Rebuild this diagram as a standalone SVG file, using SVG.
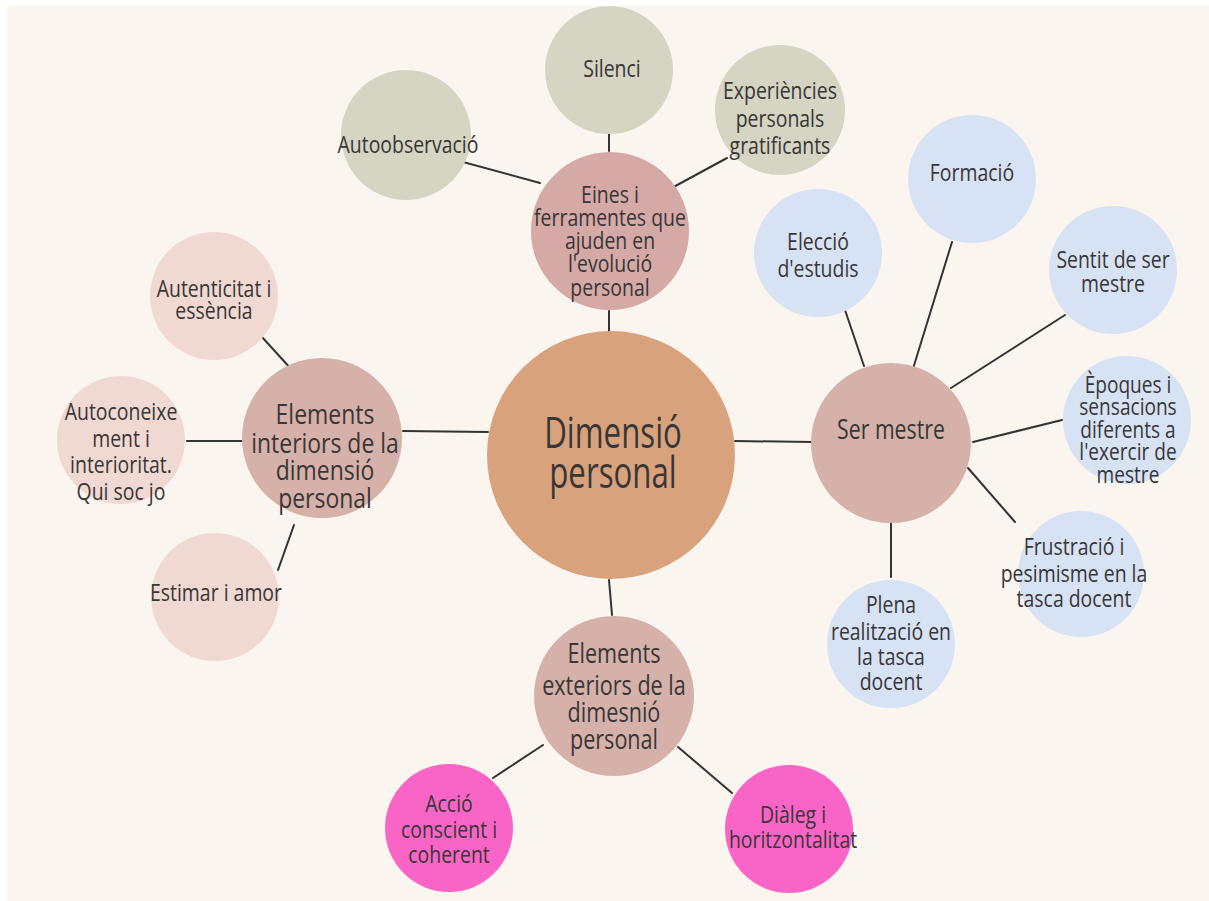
<svg xmlns="http://www.w3.org/2000/svg" width="1209" height="901" viewBox="0 0 1209 901">
  <style>
    .bg { fill: #faf5ef; }
    .link { stroke: #333333; stroke-width: 2; stroke-linecap: round; fill: none; }
    .core { fill: #d7a27c; }
    .hub { fill: #d5b1a9; }
    .hub-pink { fill: #d5aaa6; }
    .sage { fill: #d6d4c3; }
    .sky { fill: #d8e2f5; }
    .blush { fill: #f1d9d3; }
    .magenta { fill: #f865c7; }
    text {
      font-family: "Open Sans", "Noto Sans", "Liberation Sans", sans-serif;
      fill: #383636; text-anchor: middle; dominant-baseline: central;
      font-size: 24px;
      transform-box: fill-box; transform-origin: center;
      transform: scaleX(0.81);
    }
    text.small { font-size: 23px; transform: scaleX(0.83); }
    text.hubt { font-size: 27px; transform: scaleX(0.8); }
    text.hubw { font-size: 27px; transform: scaleX(0.85); }
    text.ser { font-size: 28px; transform: scaleX(0.76); }
    text.core-t { font-size: 44px; transform: scaleX(0.71); }
  </style>

  <rect width="1209" height="901" fill="#ffffff"/>
  <rect class="bg" x="7" y="6" width="1202" height="895"/>

  <!-- connectors -->
  <g id="connectors">
    <line class="link" x1="609" y1="311" x2="609" y2="334"/>
    <line class="link" x1="735" y1="441" x2="812" y2="442"/>
    <line class="link" x1="403" y1="431" x2="488" y2="432"/>
    <line class="link" x1="609" y1="580" x2="612" y2="615"/>
    <line class="link" x1="609" y1="133" x2="609" y2="151"/>
    <line class="link" x1="463" y1="162" x2="540" y2="183"/>
    <line class="link" x1="668" y1="190" x2="727" y2="158"/>
    <line class="link" x1="845" y1="310" x2="864" y2="366"/>
    <line class="link" x1="952" y1="242" x2="912" y2="372"/>
    <line class="link" x1="1065" y1="315" x2="951" y2="388"/>
    <line class="link" x1="1062" y1="420" x2="973" y2="442"/>
    <line class="link" x1="968" y1="468" x2="1015" y2="522"/>
    <line class="link" x1="891" y1="523" x2="891" y2="577"/>
    <line class="link" x1="493" y1="778" x2="543" y2="745"/>
    <line class="link" x1="678" y1="747" x2="732" y2="793"/>
    <line class="link" x1="262" y1="337" x2="292" y2="370"/>
    <line class="link" x1="187" y1="441" x2="242" y2="441"/>
    <line class="link" x1="294" y1="525" x2="278" y2="570"/>
  </g>

  <!-- centre -->
  <g id="dimensio-personal">
    <circle class="core" cx="611" cy="455" r="124"/>
    <text class="core-t"><tspan x="613" y="431">Dimensió</tspan><tspan x="613" y="471">personal</tspan></text>
  </g>

  <!-- tools branch -->
  <g id="eines">
    <circle class="hub-pink" cx="610" cy="231" r="79"/>
    <text><tspan x="610" y="193">Eines i</tspan><tspan x="610" y="216">ferramentes que</tspan><tspan x="610" y="239">ajuden en</tspan><tspan x="610" y="262">l'evolució</tspan><tspan x="610" y="286">personal</tspan></text>
  </g>
  <g id="silenci">
    <circle class="sage" cx="609" cy="70" r="64"/>
    <text x="612" y="68">Silenci</text>
  </g>
  <g id="autoobservacio">
    <circle class="sage" cx="406" cy="135" r="65"/>
    <text x="408" y="144">Autoobservació</text>
  </g>
  <g id="experiencies">
    <circle class="sage" cx="780" cy="110" r="65"/>
    <text><tspan x="780" y="89">Experiències</tspan><tspan x="780" y="117">personals</tspan><tspan x="780" y="144">gratificants</tspan></text>
  </g>

  <!-- teacher branch -->
  <g id="ser-mestre">
    <circle class="hub" cx="891" cy="443" r="80"/>
    <text class="ser" x="891" y="428">Ser mestre</text>
  </g>
  <g id="eleccio">
    <circle class="sky" cx="818" cy="253" r="64"/>
    <text><tspan x="818" y="240">Elecció</tspan><tspan x="818" y="267">d'estudis</tspan></text>
  </g>
  <g id="formacio">
    <circle class="sky" cx="972" cy="179" r="64"/>
    <text x="972" y="172">Formació</text>
  </g>
  <g id="sentit">
    <circle class="sky" cx="1113" cy="270" r="64"/>
    <text><tspan x="1113" y="258">Sentit de ser</tspan><tspan x="1113" y="282">mestre</tspan></text>
  </g>
  <g id="epoques">
    <circle class="sky" cx="1127" cy="420" r="64"/>
    <text class="small"><tspan x="1128" y="383">Èpoques i</tspan><tspan x="1128" y="405">sensacions</tspan><tspan x="1128" y="428">diferents a</tspan><tspan x="1128" y="450">l'exercir de</tspan><tspan x="1128" y="473">mestre</tspan></text>
  </g>
  <g id="frustracio">
    <circle class="sky" cx="1081" cy="574" r="63"/>
    <text><tspan x="1074" y="545">Frustració i</tspan><tspan x="1074" y="572">pesimisme en la</tspan><tspan x="1074" y="597">tasca docent</tspan></text>
  </g>
  <g id="plena">
    <circle class="sky" cx="891" cy="644" r="64"/>
    <text><tspan x="891" y="603">Plena</tspan><tspan x="891" y="630">realització en</tspan><tspan x="891" y="655">la tasca</tspan><tspan x="891" y="680">docent</tspan></text>
  </g>

  <!-- outer elements branch -->
  <g id="exteriors">
    <circle class="hub" cx="614" cy="696" r="80"/>
    <text class="hubt"><tspan x="614" y="652">Elements</tspan><tspan x="614" y="684">exteriors de la</tspan><tspan x="614" y="711">dimesnió</tspan><tspan x="614" y="738">personal</tspan></text>
  </g>
  <g id="accio">
    <circle class="magenta" cx="449" cy="828" r="64"/>
    <text><tspan x="449" y="802">Acció</tspan><tspan x="449" y="828">conscient i</tspan><tspan x="449" y="853">coherent</tspan></text>
  </g>
  <g id="dialeg">
    <circle class="magenta" cx="789" cy="829" r="64"/>
    <text><tspan x="793" y="813">Diàleg i</tspan><tspan x="793" y="838">horitzontalitat</tspan></text>
  </g>

  <!-- inner elements branch -->
  <g id="interiors">
    <circle class="hub" cx="322" cy="438" r="80"/>
    <text class="hubw"><tspan x="325" y="413">Elements</tspan><tspan x="325" y="442">interiors de la</tspan><tspan x="325" y="469">dimensió</tspan><tspan x="325" y="497">personal</tspan></text>
  </g>
  <g id="autenticitat">
    <circle class="blush" cx="214" cy="296" r="64"/>
    <text><tspan x="214" y="287">Autenticitat i</tspan><tspan x="214" y="309">essència</tspan></text>
  </g>
  <g id="autoconeixement">
    <circle class="blush" cx="121" cy="440" r="64"/>
    <text><tspan x="121" y="410">Autoconeixe</tspan><tspan x="121" y="437">ment i</tspan><tspan x="121" y="463">interioritat.</tspan><tspan x="121" y="490">Qui soc jo</tspan></text>
  </g>
  <g id="estimar">
    <circle class="blush" cx="215" cy="597" r="64"/>
    <text x="216" y="592">Estimar i amor</text>
  </g>
</svg>
